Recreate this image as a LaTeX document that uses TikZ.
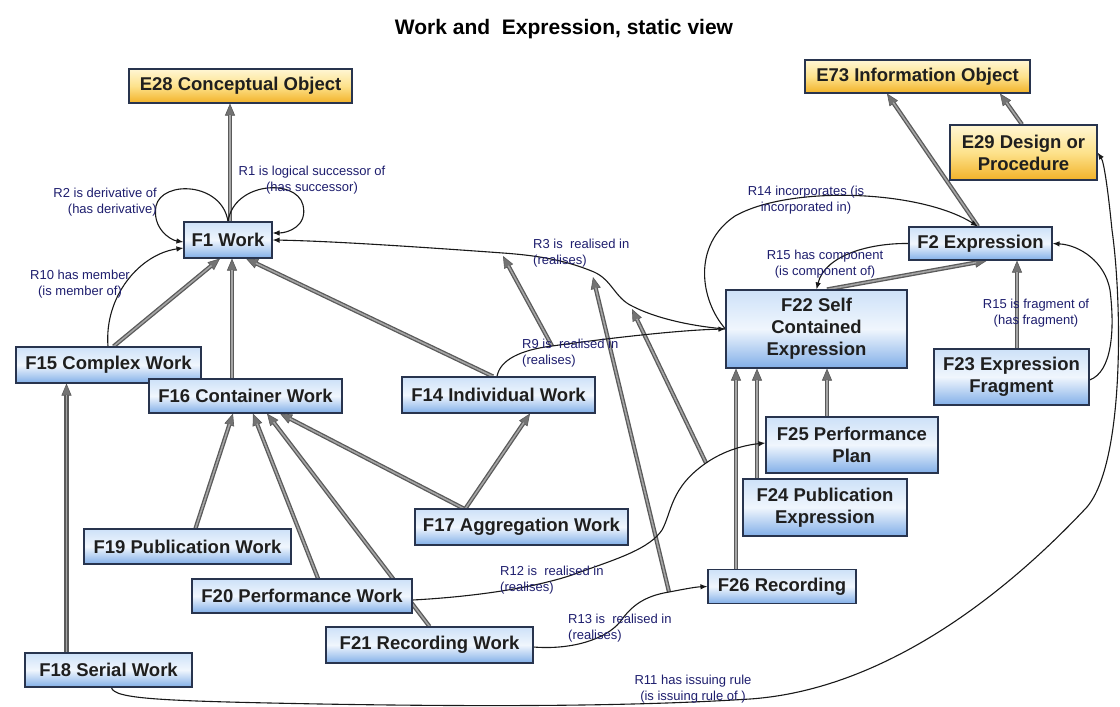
\documentclass[tikz,border=0pt]{standalone}
\usepackage{fontspec}
\setmainfont{Liberation Sans}
\usetikzlibrary{arrows.meta,calc}
\pgfdeclarelayer{bg}
\pgfsetlayers{bg,main}

\definecolor{boxedge}{RGB}{40,52,78}
\definecolor{bluetop}{RGB}{205,225,248}
\definecolor{bluemid}{RGB}{240,246,253}
\definecolor{bluebot}{RGB}{130,175,232}
\definecolor{orgtop}{RGB}{255,246,212}
\definecolor{orgmid}{RGB}{253,226,140}
\definecolor{orgbot}{RGB}{242,178,40}
\definecolor{labelblue}{RGB}{30,30,110}
\definecolor{isadark}{RGB}{90,90,90}
\definecolor{isalight}{RGB}{165,165,165}
\definecolor{isatip}{RGB}{115,115,115}

\tikzset{
  cls/.style={draw=boxedge, line width=1.1pt, inner sep=0pt, align=center,
    font=\fontsize{18.5}{22}\selectfont\bfseries, text=black!88},
  fbox/.style={cls, top color=bluetop, bottom color=bluebot, middle color=bluemid},
  ebox/.style={cls, top color=orgtop, bottom color=orgbot, middle color=orgmid},
  sz/.style 2 args={minimum width=#1pt, minimum height=#2pt},
  lab/.style={text=labelblue, font=\fontsize{13}{15.5}\selectfont, inner sep=0pt, align=center},
  rel/.style={draw=black!90, line width=1.1pt, -{Latex[length=7pt,width=5.5pt]}},
  isa/.style={draw=isadark, line width=4.2pt,
    -{Triangle[length=12pt,width=10pt,line width=0.6pt,fill=isatip]},
    postaction={draw=isalight, line width=1.6pt, -, shorten >=11pt}}
}

\begin{document}
\begin{tikzpicture}[x=1pt,y=-1pt]
\useasboundingbox (0,0) rectangle (1120,707);

% title
\node[font=\fontsize{21}{25}\selectfont\bfseries] (title) at (564,29) {Work and\ \ Expression, static view};

% classes
\node[ebox, sz={223}{34}] (E28) at (240.5,86) {E28 Conceptual Object};
\node[ebox, sz={225}{33}] (E73) at (917.5,76.5) {E73 Information Object};
\node[ebox, sz={147}{55}] (E29) at (1023.5,152.5) {E29 Design or\\Procedure};
\node[fbox, sz={88}{36}] (F1) at (228,240) {F1 Work};
\node[fbox, sz={143}{33}] (F2) at (980.5,243.5) {F2 Expression};
\node[fbox, sz={181}{78}] (F22) at (816.5,329) {F22 Self\\Contained\\Expression};
\node[fbox, sz={185}{36}] (F15) at (108.5,365) {F15 Complex Work};
\node[fbox, sz={193}{34}] (F16) at (245.5,396) {F16 Container Work};
\node[fbox, sz={193}{36}] (F14) at (498.5,395) {F14 Individual Work};
\node[fbox, sz={155}{56}] (F23) at (1011.5,377) {F23 Expression\\Fragment};
\node[fbox, sz={172}{56}] (F25) at (852,445) {F25 Performance\\Plan};
\node[fbox, sz={164}{57}] (F24) at (825,507.5) {F24 Publication\\Expression};
\node[fbox, sz={213}{36}] (F17) at (521.5,527) {F17 Aggregation Work};
\node[fbox, sz={207}{35}] (F19) at (187.5,546.5) {F19 Publication Work};
\node[fbox, sz={220}{34}] (F20) at (302,596) {F20 Performance Work};
\node[fbox, sz={207}{36}] (F21) at (429.5,645) {F21 Recording Work};
\node[fbox, sz={167}{34}] (F18) at (108.5,670) {F18 Serial Work};
\node[fbox, sz={148}{34}] (F26) at (782,586.5) {F26 Recording};

% property labels
\node[lab, align=right, anchor=east] (lR2) at (157,202) {R2 is derivative of\\(has derivative)};
\node[lab] (lR1) at (312,180) {R1 is logical successor of\\(has successor)};
\node[lab] (lR10) at (80,284) {R10 has member\\(is member of)};
\node[lab, align=left, anchor=west] (lR3) at (533,253) {R3 is\ \ realised in\\(realises)};
\node[lab, align=left, anchor=west] (lR9) at (522,353) {R9 is\ \ realised in\\(realises)};
\node[lab] (lR14) at (806,200) {R14 incorporates (is\\incorporated in)};
\node[lab] (lR15c) at (825,264) {R15 has component\\(is component of)};
\node[lab] (lR15f) at (1036,313) {R15 is fragment of\\(has fragment)};
\node[lab, align=left, anchor=west] (lR12) at (500,580) {R12 is\ \ realised in\\(realises)};
\node[lab, align=left, anchor=west] (lR13) at (568,628) {R13 is\ \ realised in\\(realises)};
\node[lab] (lR11) at (693,689) {R11 has issuing rule\\(is issuing rule of )};

% points on the property curves used by the sub-property links
\coordinate (r3a) at (503,256);
\coordinate (r3b) at (593,277);
\coordinate (r3c) at (632,309);
\coordinate (r9) at (552,346);
\coordinate (r12) at (706,463);
\coordinate (r13) at (669,592);

\begin{pgfonlayer}{bg}
\fill[white] (0,0) rectangle (1120,707);
% specialisation links
\draw[isa] ([xshift=2pt]F1.north) -- ([xshift=2pt]F1.north |- E28.south);
\draw[isa] ([xshift=5pt]F15.north) -- ([xshift=-8pt]F1.south);
\draw[isa] ([xshift=-13.5pt]F16.north) -- ([xshift=-13.5pt]F16.north |- F1.south);
\draw[isa] ([xshift=-5.5pt]F14.north) -- ([xshift=18pt]F1.south);
\draw[isa] ([xshift=-42pt]F18.north) -- ([xshift=-42pt]F18.north |- F15.south);
\draw[isa] ([xshift=8pt]F19.north) -- ([xshift=-12.5pt]F16.south);
\draw[isa] ([xshift=16pt]F20.north) -- ([xshift=7.5pt]F16.south);
\draw[isa] (F21.north) -- ([xshift=21.5pt]F16.south);
\draw[isa] ([xshift=-58pt]F17.north) -- ([xshift=34.5pt]F16.south);
\draw[isa] ([xshift=-56pt]F17.north) -- ([xshift=31.5pt]F14.south);
\draw[isa] ([xshift=-25pt]F25.north) -- ([xshift=-25pt]F25.north |- F22.south);
\draw[isa] ([xshift=-68pt]F24.north) -- ([xshift=-68pt]F24.north |- F22.south);
\draw[isa] ([xshift=-46pt]F26.north) -- ([xshift=-46pt]F26.north |- F22.south);
\draw[isa] ([xshift=10.5pt]F22.north) -- ([xshift=6.5pt]F2.south);
\draw[isa] ([xshift=5.5pt]F23.north) -- ([xshift=5.5pt]F23.north |- F2.south);
\draw[isa] ([xshift=-2.5pt]F2.north) -- ([xshift=-30.5pt]E73.south);
\draw[isa] ([xshift=-1.5pt]E29.north) -- ([xshift=82.5pt]E73.south);
% sub-property links
\draw[isa] (r9) -- (r3a);
\draw[isa] (r13) -- (r3b);
\draw[isa] (r12) -- (r3c);

% properties
\draw[rel] (F1.north) .. controls (234,182) and (296,178) .. (303,205)
  .. controls (308,226) and (288,233) .. ([yshift=7pt]F1.east);
\draw[rel] (F1.north) .. controls (222,182) and (162,180) .. (156,206)
  .. controls (152,228) and (170,240) .. ([yshift=-2pt]F1.west);
\draw[rel] ([xshift=-0.5pt]F15.north) .. controls (104,296) and (140,254) .. ([yshift=-8pt]F1.west);
\draw[rel] (F22.west) .. controls (690,326) and (655,318) .. (632,306)
  .. controls (615,298) and (612,280) .. (594,272)
  .. controls (570,262) and (545,256) .. (503,253)
  .. controls (420,247) and (330,241) .. (F1.east);
\draw[rel] ([xshift=-1.5pt]F14.north) .. controls (500,360) and (520,350) .. (r9)
  .. controls (610,338) and (680,330) .. (F22.west);
\draw[rel] (F22.west) .. controls (700,300) and (692,245) .. (735,216)
  .. controls (790,185) and (920,190) .. ([xshift=-2.5pt]F2.north);
\draw[rel] (F2.west) .. controls (870,243) and (825,255) .. (F22.north);
\draw[rel] ([yshift=-3pt]F23.east) .. controls (1112,372) and (1115,330) .. (1110,290)
  .. controls (1105,262) and (1080,245) .. (F2.east);
\draw[rel] ([yshift=-4pt]F20.east) .. controls (470,597) and (540,588) .. (583,571)
  .. controls (620,558) and (650,548) .. (662,530)
  .. controls (672,512) and (670,488) .. (r12)
  .. controls (725,450) and (745,445) .. ([yshift=2pt]F25.west);
\draw[rel] ([yshift=-2pt]F21.east) .. controls (570,650) and (605,640) .. (620,622)
  .. controls (632,605) and (645,596) .. (r13)
  .. controls (685,589) and (695,587) .. (F26.west);
\draw[rel] ([xshift=3pt]F18.south) .. controls (114,699) and (160,701) .. (320,704)
  .. controls (500,707) and (640,706) .. (750,699)
  .. controls (880,690) and (1000,600) .. (1087,507)
  .. controls (1125,462) and (1122,300) .. (1112,230)
  .. controls (1108,190) and (1104,162) .. (E29.east);
\end{pgfonlayer}
\end{tikzpicture}
\end{document}
